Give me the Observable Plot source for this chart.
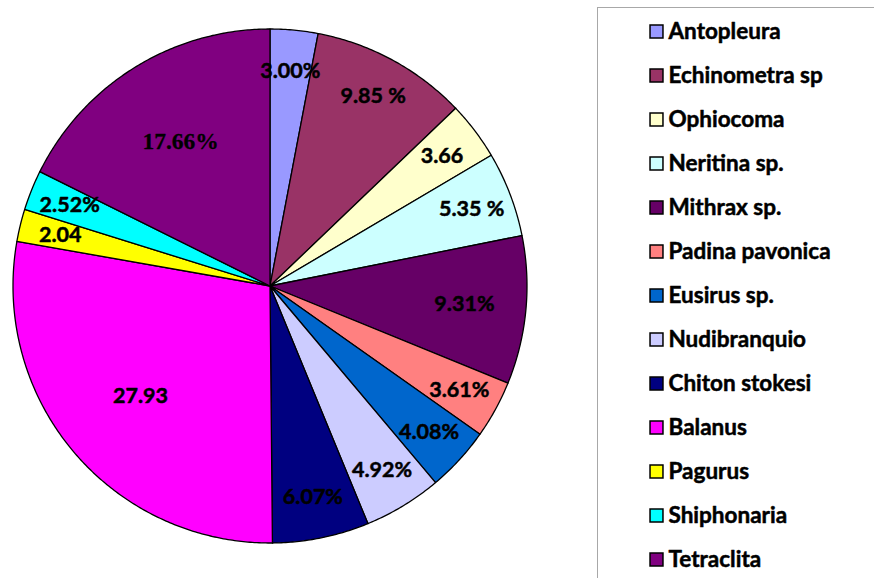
<!DOCTYPE html>
<html>
<head>
<meta charset="utf-8">
<script src="https://cdn.jsdelivr.net/npm/d3@7"></script>
<script src="https://cdn.jsdelivr.net/npm/@observablehq/plot@0.6"></script>
<style>
  html, body { margin: 0; padding: 0; background: #fff; }
  #wrap { position: relative; width: 874px; height: 578px; overflow: hidden; }
  #pie { position: absolute; left: 0; top: 0; }
  #legend { position: absolute; left: 597px; top: 0; }
  #legendBox { position: absolute; left: 597px; top: 7px; width: 400px; height: 700px;
               border-left: 1.5px solid #a8a8a8; border-top: 1.5px solid #a8a8a8; }
</style>
</head>
<body>
<div id="wrap">
  <div id="legendBox"></div>
  <div id="pie"></div>
  <div id="legend"></div>
</div>
<script>
const categories = ["Antopleura","Echinometra sp","Ophiocoma","Neritina sp.","Mithrax sp.","Padina pavonica","Eusirus sp.","Nudibranquio","Chiton stokesi","Balanus","Pagurus","Shiphonaria","Tetraclita"];
const values = [3.00, 9.85, 3.66, 5.35, 9.31, 3.61, 4.08, 4.92, 6.07, 27.93, 2.04, 2.52, 17.66];
const labels = ["3.00%","9.85 %","3.66","5.35 %","9.31%","3.61%","4.08%","4.92%","6.07%","27.93","2.04","2.52%","17.66%"];
const colors = ["#9999FF","#993366","#FFFFCC","#CCFFFF","#660066","#FF8080","#0066CC","#CCCCFF","#000080","#FF00FF","#FFFF00","#00FFFF","#800080"];

// Build slices (angles clockwise from 12 o'clock)
const total = d3.sum(values);
const slices = [];
let acc = 0;
values.forEach((v, i) => {
  const a0 = acc / total * 2 * Math.PI;
  acc += v;
  const a1 = acc / total * 2 * Math.PI;
  slices.push({cat: categories[i], label: labels[i], value: v, a0, a1, mid: (a0 + a1) / 2});
});

// Polygon points per slice (center -> arc -> center)
const pts = [];
for (const s of slices) {
  pts.push({cat: s.cat, x: 0, y: 0});
  const n = Math.max(2, Math.ceil((s.a1 - s.a0) / (Math.PI / 360)));
  for (let k = 0; k <= n; k++) {
    const a = s.a0 + (s.a1 - s.a0) * k / n;
    pts.push({cat: s.cat, x: Math.sin(a), y: Math.cos(a)});
  }
  pts.push({cat: s.cat, x: 0, y: 0});
}

const labelR = s => s.value > 15 ? 0.66 : (s.value > 9 && s.value < 9.5 ? 0.76 : 0.84);
const labelPts = slices.map(s => ({...s, lx: labelR(s) * Math.sin(s.mid), ly: labelR(s) * Math.cos(s.mid)}));

const colorScale = {domain: categories, range: colors};

const pie = Plot.plot({
  width: 597, height: 578,
  margin: 0,
  x: {domain: [-1, 1], range: [12.5, 526.5], axis: null},
  y: {domain: [-1, 1], range: [542.5, 28.5], axis: null},
  color: colorScale,
  style: {background: "transparent"},
  marks: [
    Plot.line(pts, {x: "x", y: "y", z: "cat", fill: "cat", stroke: "black", strokeWidth: 1.3, strokeLinejoin: "round"}),
    Plot.text(labelPts.filter(d => d.cat !== "Tetraclita"), {x: "lx", y: "ly", text: "label",
      fontFamily: "Lato", fontWeight: "bold", fontSize: 21.5, fill: "black", stroke: "black", strokeWidth: 0.5}),
    Plot.text(labelPts.filter(d => d.cat === "Tetraclita"), {x: "lx", y: "ly", text: "label",
      fontFamily: "Liberation Serif", fontWeight: "bold", fontSize: 23.5, fill: "black", stroke: "black", strokeWidth: 0.3})
  ]
});
document.getElementById("pie").appendChild(pie);

const legend = Plot.plot({
  width: 277, height: 578,
  margin: 0,
  y: {type: "point", domain: categories, range: [29, 560], padding: 0, axis: null},
  color: colorScale,
  style: {background: "transparent"},
  marks: [
    Plot.dot(categories, {y: d => d, frameAnchor: "left", dx: 59, symbol: "square", r: 7.3,
      fill: d => d, stroke: "black", strokeWidth: 1.5}),
    Plot.text(categories, {y: d => d, text: d => d, frameAnchor: "left", dx: 71, textAnchor: "start",
      fontFamily: "Lato", fontWeight: "bold", fontSize: 22.5, fill: "black", stroke: "black", strokeWidth: 0.5})
  ]
});
document.getElementById("legend").appendChild(legend);
</script>
</body>
</html>
